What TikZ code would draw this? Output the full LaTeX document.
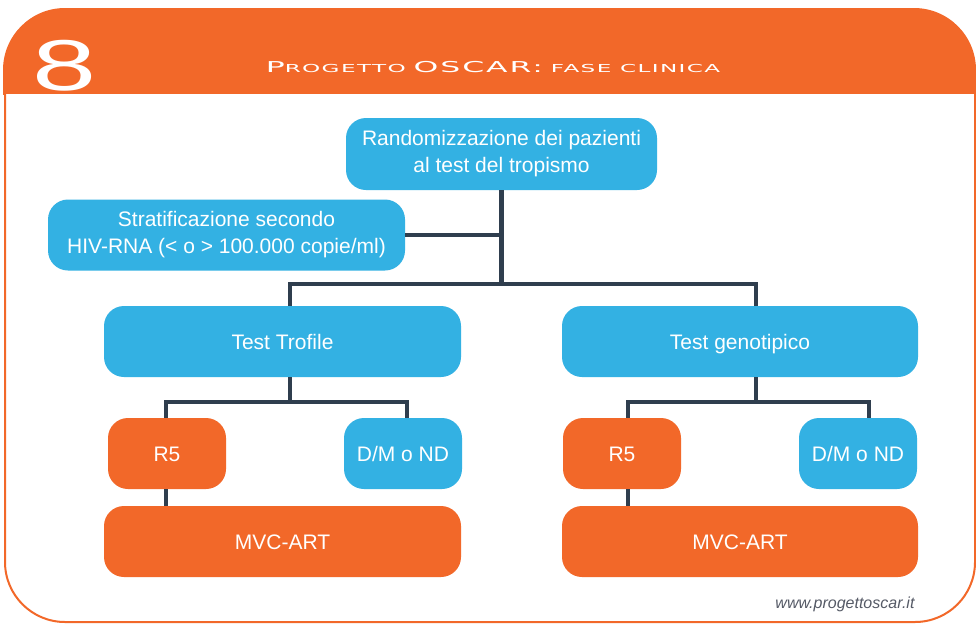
\documentclass[tikz,border=0pt]{standalone}
\usepackage{fontspec}
\setmainfont{Liberation Sans}
\newfontfamily\hdrfont[LetterSpace=6]{DejaVu Sans}
\usepackage{graphicx}
\usepackage{tikz}
\definecolor{oscarorange}{RGB}{242,104,41}
\definecolor{oscarblue}{RGB}{51,177,227}
\definecolor{linkgray}{RGB}{47,62,78}
\definecolor{urlgray}{RGB}{85,90,102}
\newcommand{\hdrbig}[1]{{\fontsize{15}{15}\selectfont #1}}
\newcommand{\hdrsmall}[1]{{\fontsize{11}{11}\selectfont #1}}

\begin{document}
\begin{tikzpicture}[x=1pt, y=-1pt,
  box/.style={rounded corners=20pt, text=white, align=center, inner sep=0pt,
              minimum width=357pt, minimum height=71pt, font=\fontsize{21}{27}\selectfont},
  oneline/.style={text height=15pt, text depth=0pt},
  bluebox/.style={box, fill=oscarblue},
  orangebox/.style={box, oneline, fill=oscarorange},
  smallbox/.style={minimum width=118pt},
  link/.style={draw=linkgray, line width=4.5pt}]
  \useasboundingbox (0,0) rectangle (976,624);
  \begin{scope}
    \clip (0,0) rectangle (976,94);
    \fill[oscarorange, rounded corners=62pt] (3,8) rectangle (976,200);
  \end{scope}
  \draw[oscarorange, line width=2pt, rounded corners=60pt, fill=white]
    (5,94) -- (5,622) -- (975,622) -- (975,94);
  \node[text=white, inner sep=0pt] (num) at (65,66)
    {\scalebox{1.6}[1]{\fontsize{72}{72}\selectfont 8}};
  \node[text=white, inner sep=0pt] (title) at (493,67.5)
    {\scalebox{2.1}[1]{\hdrfont\hdrbig{P}\hdrsmall{ROGETTO} \hdrbig{OSCAR:} \hdrsmall{FASE CLINICA}}};

  \node[bluebox, minimum width=311pt, minimum height=72pt] (rand) at (501.5,154)
    {Randomizzazione dei pazienti\\al test del tropismo};
  \node[bluebox] (strat) at (226.5,235)
    {Stratificazione secondo\\HIV-RNA (< o > 100.000 copie/ml)};
  \node[bluebox, oneline] (tro) at (282.5,341.5) {Test Trofile};
  \node[bluebox, oneline, minimum width=356pt] (gen) at (740,341.5) {Test genotipico};
  \node[orangebox, smallbox] (r5a) at (167,453.5) {R5};
  \node[bluebox, oneline, smallbox] (dma) at (403,453.5) {D/M o ND};
  \node[orangebox, smallbox] (r5b) at (622,453.5) {R5};
  \node[bluebox, oneline, smallbox] (dmb) at (858,453.5) {D/M o ND};
  \node[orangebox] (mvca) at (282.5,541.5) {MVC-ART};
  \node[orangebox, minimum width=356pt] (mvcb) at (740,541.5) {MVC-ART};
  \node[urlgray, font=\itshape\fontsize{16}{16}\selectfont, anchor=east] (url)
    at (918,604) {www.progettoscar.it};

  \coordinate (topbus) at (501,284);
  \coordinate (troin) at (290,284);
  \coordinate (genin) at (756,284);
  \draw[link] (rand.south) -- (rand.south |- topbus);
  \draw[link] (strat.east) -- (strat.east -| topbus);
  \draw[link] (tro.north -| troin) -- (troin) -- (genin) -- (gen.north -| genin);

  \coordinate (troout) at (290,402);
  \coordinate (r5ain) at (166,402);
  \coordinate (dmain) at (407,402);
  \draw[link] (tro.south -| troout) -- (troout);
  \draw[link] (r5a.north -| r5ain) -- (r5ain) -- (dmain) -- (dma.north -| dmain);
  \draw[link] (r5a.south -| r5ain) -- (mvca.north -| r5ain);

  \coordinate (genout) at (756,402);
  \coordinate (r5bin) at (628,402);
  \coordinate (dmbin) at (869,402);
  \draw[link] (gen.south -| genout) -- (genout);
  \draw[link] (r5b.north -| r5bin) -- (r5bin) -- (dmbin) -- (dmb.north -| dmbin);
  \draw[link] (r5b.south -| r5bin) -- (mvcb.north -| r5bin);
\end{tikzpicture}
\end{document}
